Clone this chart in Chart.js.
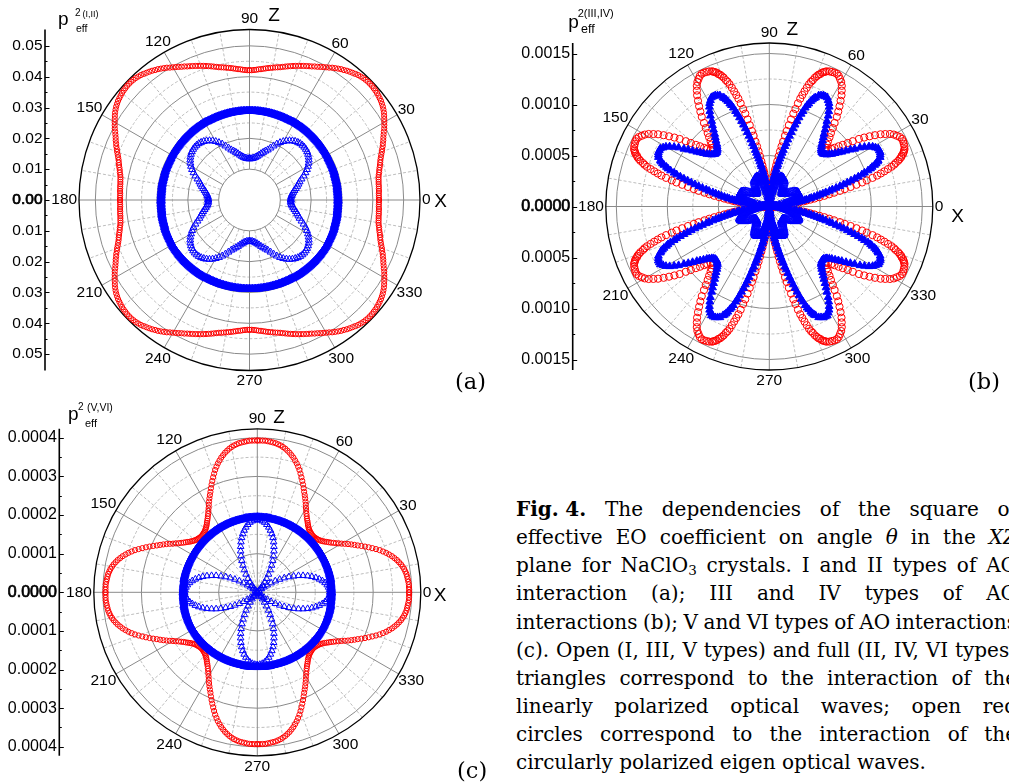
<!DOCTYPE html>
<html>
<head>
<meta charset="utf-8">
<script src="https://cdn.jsdelivr.net/npm/chart.js@4.4.1/dist/chart.umd.min.js"></script>
<style>
html,body{margin:0;padding:0;background:#fff;}
body{width:1009px;height:784px;overflow:hidden;position:relative;}
canvas{position:absolute;}
.cap{position:absolute;left:516px;top:495px;font-family:'DejaVu Serif',serif;font-size:20px;color:#000;}
.cap div{height:28.15px;line-height:28.15px;white-space:nowrap;}
.cap sub{font-size:13.5px;line-height:0;vertical-align:-3px;}
.tag{position:absolute;font-family:'DejaVu Serif',serif;font-size:22.5px;line-height:22.5px;color:#000;white-space:nowrap;}
</style>
</head>
<body>
<canvas id="ca" width="500" height="395" style="left:0;top:0"></canvas>
<canvas id="cb" width="504" height="395" style="left:505px;top:0"></canvas>
<canvas id="cc" width="500" height="389" style="left:0;top:395px"></canvas>
<div class="tag" style="left:455px;top:370px">(a)</div>
<div class="tag" style="left:968px;top:370px">(b)</div>
<div class="tag" style="left:457px;top:759px">(c)</div>
<div class="cap" id="cap">
<div class="j"><span><b>Fig.&#8196;4.</b> The dependencies of the square of</span></div>
<div class="j"><span>effective EO coefficient on angle <i>θ</i> in the <i>XZ</i></span></div>
<div class="j"><span>plane for NaClO<sub>3</sub> crystals. I and II types of AO</span></div>
<div class="j"><span>interaction (a); III and IV types of AO</span></div>
<div class="j"><span>interactions (b); V and VI types of AO interactions</span></div>
<div class="j"><span>(c). Open (I, III, V types) and full (II, IV, VI types)</span></div>
<div class="j"><span>triangles correspond to the interaction of the</span></div>
<div class="j"><span>linearly polarized optical waves; open red</span></div>
<div class="j"><span>circles correspond to the interaction of the</span></div>
<div><span>circularly polarized eigen optical waves.</span></div>
</div>
<script>
// ================= DATA =================
// Values read over the first quadrant (0..90 deg). The figure is symmetric
// with respect to the X and Z axes, so each quadrant point is also plotted
// at 180-θ, 180+θ and 360-θ.
const thetaQ1 = [0,1,2,3,4,5,6,7,8,9,10,11,12,13,14,15,16,17,18,19,20,21,22,23,24,25,26,27,28,29,30,31,32,33,34,35,36,37,38,39,40,41,42,43,44,45,46,47,48,49,50,51,52,53,54,55,56,57,58,59,60,61,62,63,64,65,66,67,68,69,70,71,72,73,74,75,76,77,78,79,80,81,82,83,84,85,86,87,88,89,90];
const thetaQ2 = [0,2,4,6,8,10,12,14,16,18,20,22,24,26,28,30,32,34,36,38,40,42,44,46,48,50,52,54,56,58,60,62,64,66,68,70,72,74,76,78,80,82,84,86,88,90];
const thetaQB = [0,1,2,3,4,5,6,7,8,8.5,9,9.5,10,10.5,11,11.5,12,12.5,13,13.5,14,14.5,15,15.5,16,16.5,17,17.5,18,18.5,19,19.5,20,20.5,21,21.5,22,22.5,23,24,25,26,27,28,29,30,31,32,33,34,35,36,37,38,39,40,41,42,43,44,45,46,47,48,49,50,51,52,53,54,55,56,57,58,59,60,61,62,63,64,65,66,67,67.5,68,68.5,69,69.5,70,70.5,71,71.5,72,72.5,73,73.5,74,74.5,75,75.5,76,76.5,77,77.5,78,78.5,79,79.5,80,80.5,81,81.5,82,83,84,85,86,87,88,89,90];

// (a) p_eff^2 (I,II)
const aTypeI = [.0134,.0134,.0135,.0137,.0140,.0144,.0149,.0155,.0161,.0167,.0173,.0182,.0192,.0202,.0211,.0219,.0226,.0232,.0237,.0241,.0244,.0246,.0247,.0247,.0246,.0244,.0241,.0237,.0232,.0226,.0219,.0211,.0202,.0192,.0182,.0173,.0167,.0161,.0155,.0149,.0144,.0140,.0137,.0135,.0134,.0134];
const aTypeII = [.0287,.0287,.0287,.0287,.0287,.0287,.0287,.0287,.0287,.0288,.0288,.0288,.0288,.0288,.0288,.0288,.0288,.0288,.0289,.0289,.0289,.0289,.0289,.0289,.0289,.0289,.0289,.0289,.0289,.0290,.0290,.0290,.0290,.0290,.0290,.0290,.0290,.0290,.0290,.0290,.0290,.0290,.0290,.0290,.0290,.0290,.0290,.0290,.0290,.0290,.0290,.0290,.0290,.0290,.0290,.0290,.0290,.0290,.0290,.0290,.0290,.0290,.0289,.0289,.0289,.0289,.0289,.0289,.0289,.0289,.0289,.0289,.0289,.0289,.0289,.0289,.0289,.0289,.0289,.0289,.0289,.0289,.0289,.0289,.0289,.0289,.0289,.0289,.0289,.0289,.0289];
const aCircular = [.0420,.0420,.0420,.0420,.0421,.0421,.0422,.0422,.0423,.0424,.0425,.0427,.0430,.0432,.0435,.0438,.0441,.0444,.0448,.0452,.0457,.0461,.0466,.0470,.0475,.0479,.0484,.0489,.0495,.0500,.0505,.0510,.0515,.0520,.0524,.0528,.0531,.0534,.0536,.0538,.0540,.0541,.0542,.0543,.0543,.0543,.0542,.0541,.0539,.0537,.0534,.0531,.0528,.0525,.0521,.0518,.0514,.0510,.0506,.0501,.0497,.0493,.0489,.0485,.0482,.0478,.0475,.0472,.0469,.0466,.0463,.0460,.0457,.0454,.0451,.0448,.0445,.0442,.0440,.0438,.0436,.0434,.0432,.0430,.0428,.0426,.0425,.0423,.0422,.0421,.0421];

// (b) p_eff^2 (III,IV)
const bTypeIII = [.00004,.00004,.00005,.00006,.00007,.00009,.0001,.00012,.00014,.000147,.000155,.000164,.000173,.000182,.00019,.000199,.000207,.000216,.000224,.000233,.000242,.000247,.000253,.000259,.000265,.00027,.000276,.000282,.000288,.000291,.000293,.000297,.000299,.000302,.000305,.000308,.00031,.00031,.00031,.00031,.00031,.00031,.000305,.000299,.000293,.000288,.000276,.000265,.000253,.000242,.00023,.000219,.000213,.000207,.000201,.000196,.00019,.000184,.000184,.000184,.000184,
.000184,.000184,.000184,.00019,.000196,.000201,.000207,.000213,.000219,.00023,.000242,.000253,.000265,.000276,.000288,.000293,.000299,.000305,.00031,.00031,.00031,.00031,.00031,.00031,.000308,.000305,.000302,.000299,.000297,.000293,.000291,.000288,.000282,.000276,.00027,.000265,.000259,.000253,.000247,.000242,.000233,.000224,.000216,.000207,.000199,.00019,.000182,.000173,.000164,.000155,.000147,.00014,.00012,.0001,.00009,.00007,.00006,.00005,.00004,.00004];
const bTypeIV = [.00003,.00004,.00005,.00007,.0001,.00013,.00016,.0002,.00025,.00027,.0003,.00032,.00035,.00037,.0004,.00042,.00045,.00048,.00051,.00054,.00057,.00061,.00064,.00068,.00072,.00076,.0008,.00084,.00088,.00092,.00096,.00099,.00103,.00106,.00108,.00111,.00113,.00115,.00116,.00119,.0012,.00121,.00121,.00121,.00119,.00117,.00114,.0011,.00106,.00101,.00097,.00093,.00089,.00086,.00083,.0008,.00078,.00076,.00075,.00074,.00074,
.00074,.00075,.00076,.00078,.0008,.00083,.00086,.00089,.00093,.00097,.00101,.00106,.0011,.00114,.00117,.00119,.00121,.00121,.00121,.0012,.00119,.00116,.00115,.00113,.00111,.00108,.00106,.00103,.00099,.00096,.00092,.00088,.00084,.0008,.00076,.00072,.00068,.00064,.00061,.00057,.00054,.00051,.00048,.00045,.00042,.0004,.00037,.00035,.00032,.0003,.00027,.00025,.0002,.00016,.00013,.0001,.00007,.00005,.00004,.00003];
const bCircular = [.00003,.00004,.00005,.00007,.0001,.00014,.00018,.00024,.0003,.00034,.00037,.00041,.00045,.0005,.00055,.0006,.00065,.00071,.00076,.00082,.00088,.00094,.00099,.00105,.0011,.00114,.00118,.00122,.00126,.00129,.00131,.00134,.00136,.00138,.00139,.00141,.00142,.00143,.00144,.00145,.001455,.00146,.00146,.00145,.00143,.00141,.00138,.00134,.0013,.00125,.0012,.00115,.0011,.00104,.00099,.00094,.0009,.00086,.00083,.0008,.00078,
.0008,.00083,.00086,.0009,.00094,.00099,.00104,.0011,.00115,.0012,.00125,.0013,.00134,.00138,.00141,.00143,.00145,.00146,.00146,.001455,.00145,.00144,.00143,.00142,.00141,.00139,.00138,.00136,.00134,.00131,.00129,.00126,.00122,.00118,.00114,.0011,.00105,.00099,.00094,.00088,.00082,.00076,.00071,.00065,.0006,.00055,.0005,.00045,.00041,.00037,.00034,.0003,.00024,.00018,.00014,.0001,.00007,.00005,.00004,.00003];

// (c) p_eff^2 (V,VI)
const cTypeV = [.000188,.000187,.000185,.000182,.000177,.000171,.000164,.000156,.000147,.000137,.000126,.000115,.000103,.000091,.000079,.000067,.000055,.000043,.000032,.000022,.000014,.000006,.000001,.000001,.000006,.000014,.000022,.000032,.000043,.000055,.000067,.000079,.000091,.000103,.000115,.000126,.000137,.000147,.000156,.000164,.000171,.000177,.000182,.000185,.000187,.000188];
const cTypeVI = [.000192,.000192,.000192,.000192,.000192,.000192,.000192,.000192,.000192,.000192,.000193,.000193,.000193,.000193,.000193,.000193,.000193,.000193,.000193,.000193,.000193,.000193,.000193,.000193,.000193,.000193,.000193,.000193,.000193,.000193,.000193,.000193,.000193,.000193,.000193,.000193,.000193,.000193,.000193,.000193,.000193,.000193,.000193,.000193,.000193,.000193,.000193,.000193,.000193,.000193,.000193,.000193,.000193,.000193,.000193,.000193,.000193,.000193,.000193,.000193,.000193,.000193,.000193,.000193,.000193,.000193,.000193,.000193,.000193,.000193,.000193,.000193,.000193,.000193,.000193,.000193,.000193,.000193,.000193,.000193,.000194,.000194,.000194,.000194,.000194,.000194,.000194,.000194,.000194,.000194,.000194];
const cCircular = [.000393,.000393,.000393,.000393,.000392,.000391,.00039,.000389,.000387,.000385,.000382,.000379,.000375,.000371,.000366,.000361,.000355,.000349,.000342,.000335,.000327,.000319,.000311,.000303,.000295,.000287,.00028,.000273,.000266,.000259,.000252,.000246,.00024,.000235,.00023,.000226,.000222,.000218,.000215,.000212,.00021,.000208,.000207,.000206,.000205,.000205,.000205,.000206,.000207,.000208,.00021,.000212,.000215,.000218,.000222,.000226,.00023,.000235,.00024,.000246,.000252,.000259,.000266,.000273,.00028,.000287,.000295,.000303,.000311,.000319,.000327,.000335,.000342,.000349,.000355,.000361,.000366,.000371,.000375,.000379,.000382,.000385,.000387,.000389,.00039,.000391,.000392,.000393,.000393,.000393,.000393];

// ticks, grid and labels
const yTicksA = [-0.05,-0.04,-0.03,-0.02,-0.01,0,0.01,0.02,0.03,0.04,0.05];
const yMinorA = [-0.045,-0.035,-0.025,-0.015,-0.005,0.005,0.015,0.025,0.035,0.045];
const ringsMajorA = [0.01,0.02,0.03,0.04,0.05];
const ringsMinorA = [0.015,0.025,0.035,0.045];
const yTicksB = [-0.0015,-0.001,-0.0005,0,0.0005,0.001,0.0015];
const yMinorB = [-0.00125,-0.00075,-0.00025,0.00025,0.00075,0.00125];
const ringsMajorB = [0.0005,0.001,0.0015];
const ringsMinorB = [0.00025,0.00075,0.00125];
const yTicksC = [-0.0004,-0.0003,-0.0002,-0.0001,0,0.0001,0.0002,0.0003,0.0004];
const yMinorC = [-0.00035,-0.00025,-0.00015,-0.00005,0.00005,0.00015,0.00025,0.00035];
const ringsMajorC = [0.0001,0.0002,0.0003,0.0004];
const ringsMinorC = [0.00005,0.00015,0.00025,0.00035];
const angleLabelDeg = [0,30,60,90,120,150,180,210,240,270,300,330];
const angleLabelText = ['0','30','60','90','120','150','180','210','240','270','300','330'];
const spokeMajorDeg = [0,30,60,90,120,150,180,210,240,270,300,330];
const spokeMinorDeg = [10,20,40,50,70,80,100,110,130,140,160,170,190,200,220,230,250,260,280,290,310,320,340,350];

// ================= RENDER =================
const FAMILY = '"Liberation Sans", Arial, sans-serif';
Chart.defaults.font.family = FAMILY;
const RED = '#ff0000', BLUE = '#0000ff';

function mirrorXZ(theta, r) {
  const pts = [];
  const add = (deg, v) => pts.push({ x: v * Math.cos(deg * Math.PI / 180), y: v * Math.sin(deg * Math.PI / 180) });
  theta.forEach((t, i) => add(t, r[i]));
  theta.forEach((t, i) => add(180 - t, r[i]));
  theta.forEach((t, i) => add(180 + t, r[i]));
  theta.forEach((t, i) => add(360 - t, r[i]));
  return pts;
}

function polarPlugin(p) {
  return {
    id: 'polar_' + p.id,
    beforeDatasetsDraw(chart) {
      const ctx = chart.ctx, xs = chart.scales.x, ys = chart.scales.y;
      const cx = xs.getPixelForValue(0), cy = ys.getPixelForValue(0);
      const rp = v => xs.getPixelForValue(v) - cx;
      const R = rp(p.rOuter), r0 = rp(p.spokeStart);
      const spoke = a => {
        const t = a * Math.PI / 180;
        ctx.beginPath(); ctx.moveTo(cx + r0 * Math.cos(t), cy - r0 * Math.sin(t));
        ctx.lineTo(cx + R * Math.cos(t), cy - R * Math.sin(t)); ctx.stroke();
      };
      const ring = v => { ctx.beginPath(); ctx.arc(cx, cy, rp(v), 0, 2 * Math.PI); ctx.stroke(); };
      ctx.save();
      ctx.lineWidth = 1;
      ctx.strokeStyle = '#bdbdbd';
      ctx.setLineDash([3, 2]);
      p.ringsMinor.forEach(ring);
      spokeMinorDeg.forEach(spoke);
      ctx.setLineDash([]);
      ctx.strokeStyle = '#8a8a8a';
      p.ringsMajor.forEach(ring);
      spokeMajorDeg.forEach(spoke);
      ctx.strokeStyle = '#000'; ctx.lineWidth = 1.3;
      ctx.beginPath(); ctx.arc(cx, cy, R, 0, 2 * Math.PI); ctx.stroke();
      ctx.restore();
    },
    afterDraw(chart) {
      const ctx = chart.ctx, xs = chart.scales.x, ys = chart.scales.y, ca = chart.chartArea;
      const cx = xs.getPixelForValue(0), cy = ys.getPixelForValue(0);
      const R = xs.getPixelForValue(p.rOuter) - cx;
      ctx.save();
      ctx.strokeStyle = '#000';
      ctx.lineWidth = 1.6;
      ctx.beginPath(); ctx.moveTo(ca.left, ca.top); ctx.lineTo(ca.left, ca.bottom); ctx.stroke();
      ctx.lineWidth = 1;
      p.yTicks.forEach(v => { const y = Math.round(ys.getPixelForValue(v)) + 0.5; ctx.beginPath(); ctx.moveTo(ca.left, y); ctx.lineTo(ca.left + 4.5, y); ctx.stroke(); });
      p.yMinor.forEach(v => { const y = Math.round(ys.getPixelForValue(v)) + 0.5; ctx.beginPath(); ctx.moveTo(ca.left, y); ctx.lineTo(ca.left + 2.5, y); ctx.stroke(); });
      ctx.fillStyle = '#000';
      ctx.font = '15.5px ' + FAMILY;
      ctx.textAlign = 'center'; ctx.textBaseline = 'middle';
      const dw = ctx.measureText('00').width;
      angleLabelDeg.forEach((a, i) => {
        const txt = angleLabelText[i], w = ctx.measureText(txt).width, t = a * Math.PI / 180;
        const d = R + 10.5 + (w - dw) / 2 * Math.abs(Math.cos(t));
        ctx.fillText(txt, cx + d * Math.cos(t), cy - d * Math.sin(t));
      });
      ctx.font = '19px ' + FAMILY;
      ctx.fillText('X', cx + p.xLab[0], cy + p.xLab[1]);
      ctx.fillText('Z', cx + p.zLab[0], cy + p.zLab[1]);
      ctx.textAlign = 'left'; ctx.textBaseline = 'alphabetic';
      p.title.forEach(s => { ctx.font = s[3] + 'px ' + FAMILY; ctx.fillText(s[0], s[1], s[2]); });
      ctx.restore();
    }
  };
}

function makePanel(p) {
  const k = p.pxPerUnit;
  const cxL = p.cx - p.left, cyL = p.cy - p.top, axL = p.axisX - p.left;
  const top = cyL - p.rPx, bottom = cyL + p.rPx, right = cxL + p.rPx + 10;
  p.rOuter = p.rPx / k;
  new Chart(document.getElementById(p.id), {
    type: 'scatter',
    data: { datasets: p.datasets },
    options: {
      responsive: false, animation: false, events: [], devicePixelRatio: 1,
      layout: { padding: { left: 0, top: top, bottom: p.height - bottom, right: p.width - right } },
      plugins: { legend: { display: false }, tooltip: { enabled: false } },
      scales: {
        x: { type: 'linear', display: false, min: -(cxL - axL) / k, max: (right - cxL) / k },
        y: {
          type: 'linear', min: -p.rOuter, max: p.rOuter,
          grid: { display: false, drawTicks: false }, border: { display: false },
          afterBuildTicks: s => { s.ticks = p.yTicks.map(v => ({ value: v })); },
          afterFit: s => { s.width = axL; },
          ticks: {
            autoSkip: false, padding: 2.5, color: '#000', font: { size: p.tickFont },
            callback: v => Math.abs(v).toFixed(p.dec),
            textStrokeColor: '#000',
            textStrokeWidth: c => (c.tick && Math.abs(c.tick.value) < 1e-12) ? 0.7 : 0
          }
        }
      }
    },
    plugins: [polarPlugin(p)]
  });
}

function circles(theta, r, radius) {
  return { data: mirrorXZ(theta, r), pointStyle: 'circle', pointRadius: radius, pointBorderWidth: 1,
    pointBorderColor: RED, pointBackgroundColor: 'rgba(255,255,255,0)', pointHoverRadius: radius, clip: false };
}
function openTri(theta, r, radius) {
  return { data: mirrorXZ(theta, r), pointStyle: 'triangle', pointRadius: radius, pointBorderWidth: 1,
    pointBorderColor: BLUE, pointBackgroundColor: 'rgba(255,255,255,0)', pointHoverRadius: radius, clip: false };
}
function fullTri(theta, r, radius) {
  return { data: mirrorXZ(theta, r), pointStyle: 'triangle', pointRadius: radius, pointBorderWidth: 1,
    pointBorderColor: BLUE, pointBackgroundColor: BLUE, pointHoverRadius: radius, clip: false };
}

makePanel({
  id: 'ca', left: 0, top: 0, width: 500, height: 395,
  cx: 249.5, cy: 200, axisX: 45, pxPerUnit: 3083, rPx: 170.5,
  spokeStart: 0.01, ringsMajor: ringsMajorA, ringsMinor: ringsMinorA,
  yTicks: yTicksA, yMinor: yMinorA, dec: 2, tickFont: 15.5,
  xLab: [191, 2], zLab: [24.5, -184],
  title: [['p', 58, 25, 19], ['2', 75, 16, 10], ['(I,II)', 82.5, 16.5, 9], ['eff', 76, 31.5, 10.5]],
  datasets: [openTri(thetaQ2, aTypeI, 4), fullTri(thetaQ1, aTypeII, 4.8), circles(thetaQ1, aCircular, 2.6)]
});
makePanel({
  id: 'cb', left: 505, top: 0, width: 504, height: 395,
  cx: 769.3, cy: 206.5, axisX: 572.7, pxPerUnit: 102000, rPx: 163.5,
  spokeStart: 0, ringsMajor: ringsMajorB, ringsMinor: ringsMinorB,
  yTicks: yTicksB, yMinor: yMinorB, dec: 4, tickFont: 16,
  xLab: [188.4, 10.6], zLab: [23, -176.3],
  title: [['p', 63.3, 28, 19], ['2(III,IV)', 72.7, 17, 11], ['eff', 76, 33.3, 12.5]],
  datasets: [openTri(thetaQB, bTypeIII, 5), fullTri(thetaQB, bTypeIV, 4.5), circles(thetaQB, bCircular, 3.6)]
});
makePanel({
  id: 'cc', left: 0, top: 395, width: 500, height: 389,
  cx: 257.3, cy: 592.3, axisX: 59.3, pxPerUnit: 386250, rPx: 163.5,
  spokeStart: 0, ringsMajor: ringsMajorC, ringsMinor: ringsMinorC,
  yTicks: yTicksC, yMinor: yMinorC, dec: 4, tickFont: 16,
  xLab: [182.7, 3.7], zLab: [21.7, -174.3],
  title: [['p', 68, 25, 19], ['2', 78, 15, 10], ['(V,VI)', 87, 15.5, 10.5], ['eff', 85, 31.7, 11]],
  datasets: [openTri(thetaQ2, cTypeV, 3.8), fullTri(thetaQ1, cTypeVI, 4.6), circles(thetaQ1, cCircular, 2.6)]
});

// caption: justify each line to the column width
const CAP_W = 501;
document.querySelectorAll('#cap .j').forEach(d => {
  const span = d.firstElementChild;
  const natural = span.getBoundingClientRect().width;
  const spaces = (span.textContent.match(/ /g) || []).length;
  if (spaces) span.style.wordSpacing = ((CAP_W - natural) / spaces) + 'px';
});
</script>
</body>
</html>
